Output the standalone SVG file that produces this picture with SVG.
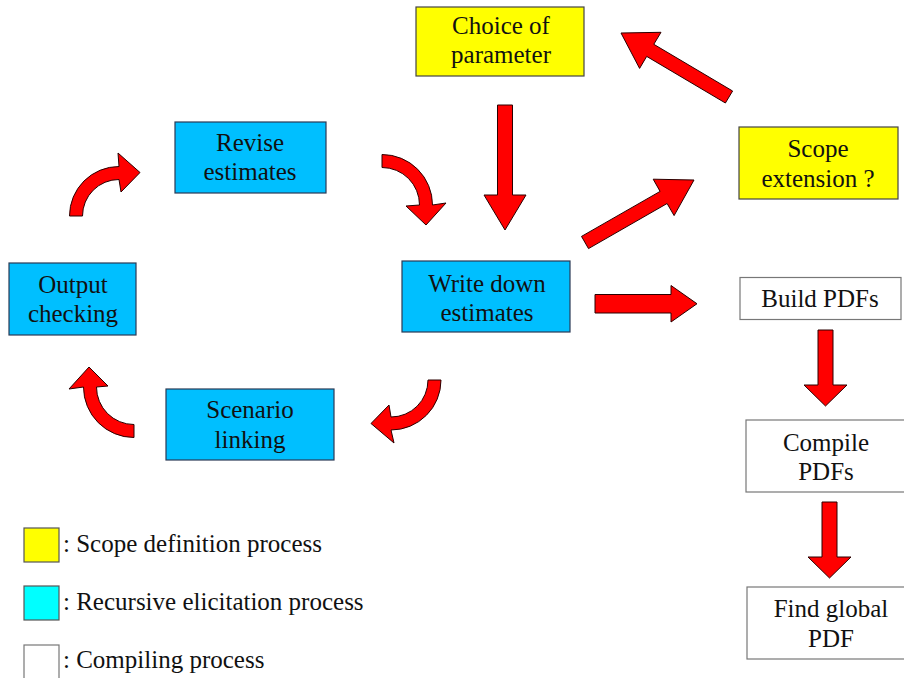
<svg xmlns="http://www.w3.org/2000/svg" width="904" height="678" viewBox="0 0 904 678">
<style>
  text { font-family: 'Liberation Serif', 'DejaVu Serif', serif; font-size: 25px; fill: #111; }
  .c { text-anchor: middle; }
  .yel { fill: #FFFF00; stroke: #444; stroke-width: 1.2; }
  .blu { fill: #00BFFF; stroke: #2a3a55; stroke-width: 1.2; }
  .wht { fill: #FFFFFF; stroke: #777; stroke-width: 1.2; }
  .arr { fill: #FF0000; stroke: #2a0000; stroke-width: 1; stroke-linejoin: miter; }
</style>
<rect width="904" height="678" fill="#FFFFFF"/>

<g id="connectors">
  <path class="arr" d="M69.5,216 A49.5,49.5 0 0 1 119,166.5 L118,153 L140,172.5 L121,192 L119,179.5 A36.5,36.5 0 0 0 82.5,216 Z"/>
  <path class="arr" d="M382,154.5 A50.5,50.5 0 0 1 432.5,205 L446,203 L426,225 L406,206 L419.5,205 A37.5,37.5 0 0 0 382,167.5 Z"/>
  <path class="arr" d="M441,380 A50,50 0 0 1 391,430 L394,443 L371,423.5 L389,405 L391,417 A37,37 0 0 0 428,380 Z"/>
  <path class="arr" d="M134,437.5 A50.5,50.5 0 0 1 83.5,387 L69,389 L89,367 L108,386 L96.5,387 A37.5,37.5 0 0 0 134,424.5 Z"/>
  <polygon class="arr" points="497.5,105 512.5,105 512.5,195 526,195 505,230 484,195 497.5,195"/>
  <polygon class="arr" points="732.6,91 653.8,44.3 661,32.3 621,33 639.6,68.4 646.7,56.4 725.4,103"/>
  <polygon class="arr" points="581.5,236.4 660.1,191.4 653.2,179.2 694,180 674.1,215.6 667.1,203.5 588.5,248.6"/>
  <polygon class="arr" points="595,294.5 671,294.5 671,285.5 697,303.75 671,322 671,313 595,313"/>
  <polygon class="arr" points="818,330 833,330 833,385 847,385 825.5,406 804,385 818,385"/>
  <polygon class="arr" points="822,502 837,502 837,557 851,557 829.5,578 808,557 822,557"/>
</g>

<g id="choice">
  <rect class="yel" x="416" y="7" width="168" height="69"/>
  <text class="c" x="501" y="34">Choice of</text>
  <text class="c" x="501" y="63">parameter</text>
</g>
<g id="scope">
  <rect class="yel" x="739" y="127" width="159" height="72"/>
  <text class="c" x="818" y="157">Scope</text>
  <text class="c" x="818" y="187">extension ?</text>
</g>
<g id="write">
  <rect class="blu" x="402" y="261" width="168" height="71"/>
  <text class="c" x="487" y="292">Write down</text>
  <text class="c" x="487" y="321">estimates</text>
</g>
<g id="revise">
  <rect class="blu" x="175" y="122" width="151" height="71"/>
  <text class="c" x="250" y="151">Revise</text>
  <text class="c" x="250" y="180">estimates</text>
</g>
<g id="output">
  <rect class="blu" x="9" y="263" width="127" height="72"/>
  <text class="c" x="73" y="293">Output</text>
  <text class="c" x="73" y="322">checking</text>
</g>
<g id="scenario">
  <rect class="blu" x="166" y="389" width="168" height="71"/>
  <text class="c" x="250" y="418">Scenario</text>
  <text class="c" x="250" y="448">linking</text>
</g>
<g id="build">
  <rect class="wht" x="740" y="277.5" width="161" height="42"/>
  <text class="c" x="820" y="307">Build PDFs</text>
</g>
<g id="compile">
  <rect class="wht" x="746" y="420" width="162" height="72"/>
  <text class="c" x="826" y="451">Compile</text>
  <text class="c" x="826" y="480">PDFs</text>
</g>
<g id="find">
  <rect class="wht" x="747" y="587" width="170" height="72"/>
  <text class="c" x="831" y="617">Find global</text>
  <text class="c" x="831" y="647">PDF</text>
</g>

<g id="legend">
  <rect x="24" y="528" width="35" height="34" fill="#FFFF00" stroke="#555" stroke-width="1.2"/>
  <text x="63" y="552">: Scope definition process</text>
  <rect x="24" y="586" width="35" height="34" fill="#00FFFF" stroke="#555" stroke-width="1.2"/>
  <text x="63" y="610">: Recursive elicitation process</text>
  <rect x="24" y="645" width="35" height="34" fill="#FFFFFF" stroke="#777" stroke-width="1.2"/>
  <text x="63" y="668">: Compiling process</text>
</g>
</svg>
